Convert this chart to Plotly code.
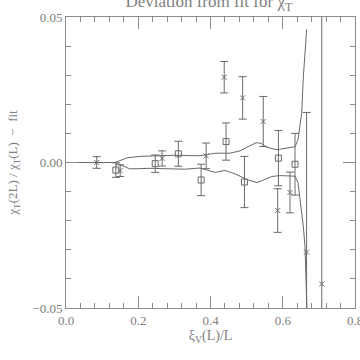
import plotly.graph_objects as go

## Data

# points drawn with a cross
cross_x = [0.085, 0.150, 0.266, 0.388, 0.438, 0.489, 0.546, 0.586, 0.620, 0.666, 0.708]
cross_y = [0.0000, -0.0028, 0.0014, 0.0023, 0.0293, 0.0222, 0.0141, -0.0165, -0.0103, -0.0308, -0.0417]
cross_err = [0.0020, 0.0020, 0.0026, 0.0044, 0.0054, 0.0073, 0.0086, 0.0075, 0.0070, 0.0480, 0.1000]

# points drawn with an open square
square_x = [0.138, 0.247, 0.311, 0.374, 0.443, 0.494, 0.588, 0.634]
square_y = [-0.0026, -0.0004, 0.0030, -0.0060, 0.0072, -0.0067, 0.0015, -0.0006]
square_err = [0.0025, 0.0030, 0.0043, 0.0054, 0.0064, 0.0088, 0.0095, 0.0106]

# upper and lower edges of the fit band
upper_x = [0.0, 0.1356, 0.169, 0.205, 0.302, 0.371, 0.4125, 0.454, 0.4817, 0.504, 0.526,
           0.540, 0.556, 0.584, 0.611, 0.634, 0.6423, 0.648, 0.6525, 0.657, 0.6615, 0.6663]
upper_y = [0.0, 0.0, 0.0016, 0.0021, 0.0025, 0.0023, 0.0032, 0.0032, 0.0040, 0.0054, 0.0068,
           0.0066, 0.0052, 0.0044, 0.0049, 0.0054, 0.0078, 0.0136, 0.0171, 0.0294, 0.0387, 0.0458]
lower_x = [0.0, 0.1356, 0.177, 0.2325, 0.329, 0.371, 0.4125, 0.440, 0.468, 0.501, 0.529,
           0.551, 0.570, 0.592, 0.620, 0.634, 0.6423, 0.6497, 0.657, 0.6616, 0.6644, 0.6663, 0.667]
lower_y = [0.0, 0.0, -0.0022, -0.0020, -0.0023, -0.0019, -0.0034, -0.0027, -0.0039, -0.0059, -0.0069,
           -0.0059, -0.0048, -0.0045, -0.0047, -0.0047, -0.0070, -0.0138, -0.0220, -0.0289, -0.0369, -0.0448, -0.0506]

x_ticks = [0, 0.2, 0.4, 0.6]
x_ticktext = ["0.0", "0.2", "0.4", "0.6"]

ink = "#6a6a6a"
frame = "#8c8c8c"
txt = "#808080"
serif = "Liberation Serif, DejaVu Serif, serif"

fig = go.Figure()

for xs, ys in [(upper_x, upper_y), (lower_x, lower_y)]:
    fig.add_trace(go.Scatter(x=xs, y=ys, mode="lines",
                             line=dict(color=ink, width=1), hoverinfo="skip"))

fig.add_trace(go.Scatter(
    x=square_x, y=square_y, mode="markers",
    marker=dict(symbol="square-open", size=6, color=ink, line=dict(width=1, color=ink)),
    error_y=dict(type="data", array=square_err, color=ink, thickness=1, width=4)
))

fig.add_trace(go.Scatter(
    x=cross_x, y=cross_y, mode="markers",
    marker=dict(symbol="x-thin", size=5, color=ink, line=dict(width=1, color=ink)),
    error_y=dict(type="data", array=cross_err, color=ink, thickness=1, width=4)
))

axis_common = dict(
    showgrid=False, zeroline=False, showline=True, linecolor=frame, linewidth=1,
    mirror="ticks", ticks="inside", ticklen=12, tickcolor=frame, automargin=False,
    tickfont=dict(family=serif, size=13, color=txt),
)

fig.update_layout(
    width=360, height=360,
    margin=dict(l=66, r=5, t=17, b=52),
    plot_bgcolor="white", paper_bgcolor="white",
    showlegend=False,
    title=dict(text="Deviation from fit for χ<sub>T</sub>", x=0.58, xanchor="center",
               y=0.997, yref="container", yanchor="middle", automargin=False,
               font=dict(family=serif, size=17, color=txt)),
    xaxis=dict(range=[0, 0.8], tickvals=x_ticks + [0.8], ticktext=x_ticktext + [""],
               minor=dict(dtick=0.04, ticks="inside", ticklen=5, tickcolor=frame),
               title=dict(text="ξ<sub>V</sub>(L)/L", standoff=2,
                          font=dict(family=serif, size=14, color=txt)),
               **axis_common),
    yaxis=dict(range=[-0.05, 0.05], tickvals=[-0.05, 0, 0.05],
               ticktext=["\u22120.05", "0.00", "0.05"],
               minor=dict(dtick=0.01, ticks="inside", ticklen=5, tickcolor=frame),
               title=dict(text="χ<sub>T</sub>(2L) / χ<sub>T</sub>(L)  \u2212  fit", standoff=11,
                          font=dict(family=serif, size=13, color=txt)),
               **axis_common),
)

# last x tick label runs past the right edge, so plotly drops it; put it back by hand
fig.add_annotation(x=0.8, xref="x", y=0, yref="paper", yanchor="top", yshift=-3,
                   text="0.8", showarrow=False, font=dict(family=serif, size=13, color=txt))

## Drop the page's default body margin so the chart sits at the window's corner
fig.write_html("out.html", config={"displayModeBar": False},
               post_script="document.body.style.margin = '0';")
